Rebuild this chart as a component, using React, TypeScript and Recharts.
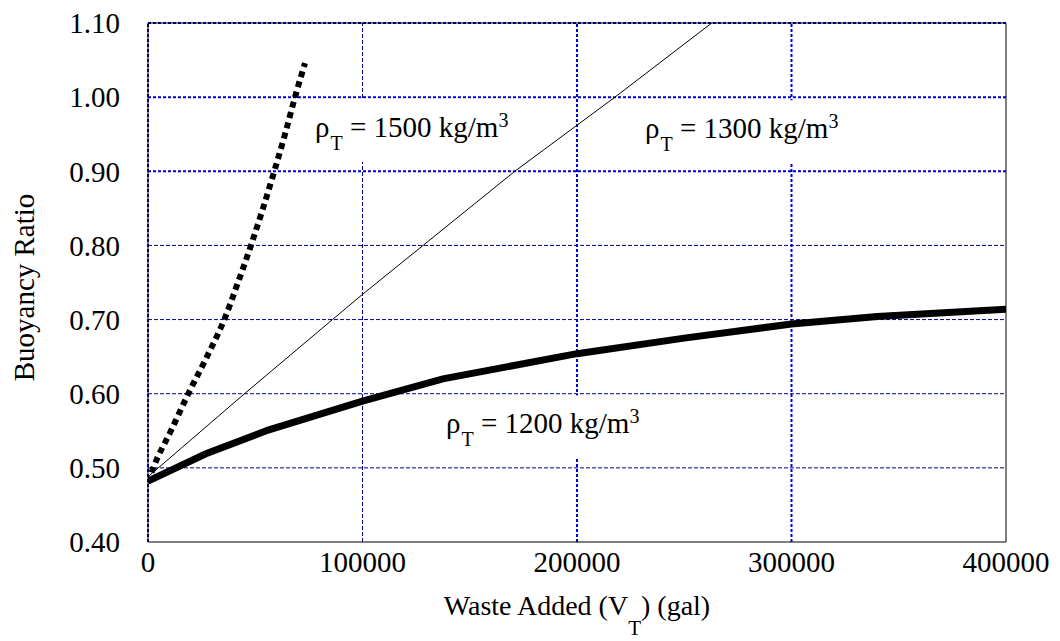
import React from 'react';
import {
  LineChart,
  Line,
  XAxis,
  YAxis,
  ReferenceLine,
  ReferenceDot,
  Label,
} from 'recharts';

const FONT = '"Liberation Serif", "Times New Roman", serif';

// tick positions
const xMajor = [0, 100000, 200000, 300000, 400000];
const xMinor = [
  0, 20000, 40000, 60000, 80000, 100000, 120000, 140000, 160000, 180000, 200000,
  220000, 240000, 260000, 280000, 300000, 320000, 340000, 360000, 380000, 400000,
];
const yMajor = [0.4, 0.5, 0.6, 0.7, 0.8, 0.9, 1.0, 1.1];
const yMinor = [
  0.4, 0.42, 0.44, 0.46, 0.48, 0.5, 0.52, 0.54, 0.56, 0.58, 0.6, 0.62, 0.64, 0.66,
  0.68, 0.7, 0.72, 0.74, 0.76, 0.78, 0.8, 0.82, 0.84, 0.86, 0.88, 0.9, 0.92, 0.94,
  0.96, 0.98, 1.0, 1.02, 1.04, 1.06, 1.08, 1.1,
];

// grid lines (two shades in the original)
const yGridDark = [0.5, 0.6, 0.7, 0.8];
const yGridBright = [0.9, 1.0, 1.1];
const xGridDark = [100000];
const xGridBright = [0, 200000, 300000];

// rho_T = 1500 kg/m3 (dotted)
const waste1500 = [0, 2470, 10700, 18800, 27500, 35560, 41950, 48000, 53600, 58870, 63870, 68530, 73200];
const ratio1500 = [0.48, 0.5, 0.55, 0.6, 0.65, 0.7, 0.75, 0.8, 0.85, 0.9, 0.95, 1.0, 1.046];

// rho_T = 1300 kg/m3 (thin)
const waste1300 = [0, 45000, 86000, 100000, 171000, 217700, 262800];
const ratio1300 = [0.488, 0.6, 0.7, 0.734, 0.9, 1.0, 1.1];

// rho_T = 1200 kg/m3 (thick)
const waste1200 = [0, 27000, 56000, 100000, 137500, 200000, 250000, 300000, 340000, 400000];
const ratio1200 = [0.482, 0.519, 0.551, 0.59, 0.62, 0.654, 0.675, 0.694, 0.704, 0.714];

// annotation anchors (text start, baseline)
const tagDensity = ['1500', '1300', '1200'];
const tagWaste = [77850, 231700, 138900];
const tagRatio = [0.9466, 0.9445, 0.5465];

const toPoints = (xs: number[], ys: number[]) => xs.map((x, i) => ({ x, y: ys[i] }));

const xDomain = [0, 400000];
const yDomain = [0.4, 1.1];

const txt = (size: number) => ({ fontSize: size, fontFamily: FONT, fill: '#000' });

const DensityTag = ({ cx, cy, value }: any) => (
  <g>
    <rect x={cx - 6} y={cy - 38} width={212} height={63} fill="#fff" />
    <text x={cx} y={cy} style={txt(29)}>
      <tspan>ρ</tspan>
      <tspan style={txt(20)} dx={1} dy={13}>T</tspan>
      <tspan style={txt(29)} dy={-13}>{' = ' + value + ' kg/m'}</tspan>
      <tspan style={txt(20)} dy={-10}>3</tspan>
    </text>
  </g>
);

const XTitle = ({ viewBox }: any) => {
  const cx = viewBox.x + viewBox.width / 2;
  const y = viewBox.y + 73;
  return (
    <text x={cx} y={y} textAnchor="middle" style={txt(28)}>
      <tspan style={txt(28)}>Waste Added (V</tspan>
      <tspan style={txt(21)} dy={20}>T</tspan>
      <tspan style={txt(28)} dy={-20}>) (gal)</tspan>
    </text>
  );
};

const YTitle = ({ viewBox }: any) => {
  const cy = viewBox.y + viewBox.height / 2 + 5;
  const x = 26;
  return (
    <text x={x} y={cy} transform={`rotate(-90, ${x}, ${cy})`} textAnchor="middle" style={txt(29)}>
      Buoyancy Ratio
    </text>
  );
};

export default function App() {
  const tickStyle = { fill: '#000', style: txt(29) };
  const ink = { stroke: '#000', strokeWidth: 1 };

  return (
    <div style={{ width: 1044, height: 633, fontFamily: FONT, background: '#fff' }}>
      <LineChart width={1044} height={633} margin={{ top: 15, right: 46, left: 10, bottom: 39 }}>
        {/* main axes with labels */}
        <XAxis
          xAxisId="main"
          dataKey="x"
          type="number"
          domain={xDomain}
          allowDataOverflow
          ticks={xMajor}
          interval={0}
          tickLine={false}
          tickSize={0}
          tickMargin={9}
          height={60}
          axisLine={ink}
          tick={tickStyle}
        >
          <Label content={<XTitle />} />
        </XAxis>
        <YAxis
          yAxisId="main"
          type="number"
          domain={yDomain}
          allowDataOverflow
          ticks={yMajor}
          interval={0}
          tickLine={false}
          tickSize={0}
          tickMargin={28}
          width={130}
          axisLine={ink}
          tick={tickStyle}
          tickFormatter={(v: number) => v.toFixed(2)}
        >
          <Label content={<YTitle />} />
        </YAxis>

        {/* inward tick marks on all four sides */}
        <XAxis xAxisId="bMaj" type="number" domain={xDomain} allowDataOverflow ticks={xMajor} interval={0}
          orientation="bottom" mirror tick={false} tickSize={14} axisLine={false} tickLine={ink} />
        <XAxis xAxisId="bMin" type="number" domain={xDomain} allowDataOverflow ticks={xMinor} interval={0}
          orientation="bottom" mirror tick={false} tickSize={7} axisLine={false} tickLine={ink} />
        <XAxis xAxisId="tMaj" type="number" domain={xDomain} allowDataOverflow ticks={xMajor} interval={0}
          orientation="top" mirror tick={false} tickSize={14} axisLine={ink} tickLine={ink} />
        <XAxis xAxisId="tMin" type="number" domain={xDomain} allowDataOverflow ticks={xMinor} interval={0}
          orientation="top" mirror tick={false} tickSize={7} axisLine={false} tickLine={ink} />
        <YAxis yAxisId="lMaj" type="number" domain={yDomain} allowDataOverflow ticks={yMajor} interval={0}
          orientation="left" mirror tick={false} tickSize={14} axisLine={false} tickLine={ink} />
        <YAxis yAxisId="lMin" type="number" domain={yDomain} allowDataOverflow ticks={yMinor} interval={0}
          orientation="left" mirror tick={false} tickSize={7} axisLine={false} tickLine={ink} />
        <YAxis yAxisId="rMaj" type="number" domain={yDomain} allowDataOverflow ticks={yMajor} interval={0}
          orientation="right" mirror tick={false} tickSize={14} axisLine={ink} tickLine={ink} />
        <YAxis yAxisId="rMin" type="number" domain={yDomain} allowDataOverflow ticks={yMinor} interval={0}
          orientation="right" mirror tick={false} tickSize={7} axisLine={false} tickLine={ink} />

        {/* grid */}
        {yGridDark.map((v) => (
          <ReferenceLine key={'yd' + v} xAxisId="main" yAxisId="main" y={v}
            stroke="#00008c" strokeWidth={1} strokeDasharray="4 2" />
        ))}
        {xGridDark.map((v) => (
          <ReferenceLine key={'xd' + v} xAxisId="main" yAxisId="main" x={v}
            stroke="#00008c" strokeWidth={1} strokeDasharray="4 2" />
        ))}
        {yGridBright.map((v) => (
          <ReferenceLine key={'yb' + v} xAxisId="main" yAxisId="main" y={v}
            stroke="#0000d8" strokeWidth={2} strokeDasharray="3 2" />
        ))}
        {xGridBright.map((v) => (
          <ReferenceLine key={'xb' + v} xAxisId="main" yAxisId="main" x={v}
            stroke="#0000d8" strokeWidth={2} strokeDasharray="3 2" />
        ))}

        {/* annotations */}
        {tagDensity.map((d, i) => (
          <ReferenceDot
            key={'tag' + d}
            xAxisId="main"
            yAxisId="main"
            x={tagWaste[i]}
            y={tagRatio[i]}
            r={0}
            shape={(p: any) => <DensityTag cx={p.cx} cy={p.cy} value={d} />}
          />
        ))}

        {/* series */}
        <Line xAxisId="main" yAxisId="main" data={toPoints(waste1300, ratio1300)} dataKey="y"
          type="linear" stroke="#000" strokeWidth={1} dot={false} isAnimationActive={false} />
        <Line xAxisId="main" yAxisId="main" data={toPoints(waste1200, ratio1200)} dataKey="y"
          type="linear" stroke="#000" strokeWidth={7} dot={false} isAnimationActive={false} />
        <Line xAxisId="main" yAxisId="main" data={toPoints(waste1500, ratio1500)} dataKey="y"
          type="monotone" stroke="#000" strokeWidth={6} strokeDasharray="6 4.6" dot={false}
          isAnimationActive={false} />
      </LineChart>
    </div>
  );
}
